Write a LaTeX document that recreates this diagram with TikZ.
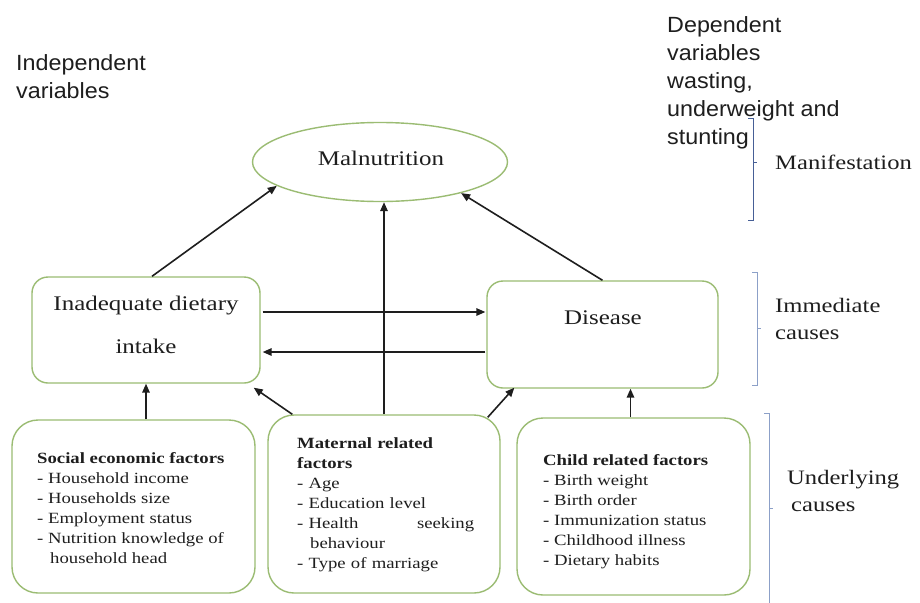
\documentclass[tikz,border=0pt]{standalone}
\usepackage{fontspec}
\setmainfont{Liberation Serif}[FakeStretch=1.2]
\newfontfamily\sansf{Liberation Sans}[FakeStretch=1.06]
\usetikzlibrary{arrows.meta,shapes.geometric,calc}
\definecolor{boxgreen}{RGB}{155,188,115}
\definecolor{brkdark}{RGB}{70,95,150}
\definecolor{brklight}{RGB}{140,160,200}
\definecolor{ink}{RGB}{30,30,30}
\tikzset{
  box/.style={draw=boxgreen, line width=1.4pt, fill=white, rectangle, inner sep=0pt},
  topbox/.style={box, rounded corners=16pt},
  botbox/.style={box, rounded corners=26pt},
  big/.style={font=\fontsize{20.8}{27}\selectfont, text=ink, inner sep=0pt},
  side/.style={font=\fontsize{20.5}{27}\selectfont, text=ink, inner sep=0pt, anchor=west, align=left},
  small/.style={font=\fontsize{15.6}{20}\selectfont, text=ink, inner sep=0pt, anchor=north west, align=left},
  sanstext/.style={font=\sansf\fontsize{22}{28}\selectfont, text=ink, inner sep=0pt, anchor=north west, align=left},
  arr/.style={draw=ink, line width=1.6pt, -{Triangle[length=9pt,width=7.5pt]}},
  brk/.style={line width=0.8pt}
}
\begin{document}
\begin{tikzpicture}[x=1pt,y=-1pt]
\useasboundingbox (0,0) rectangle (920,602);
\fill[white] (0,0) rectangle (920,602);

% top labels
\node[sanstext] (indep) at (16,54) {Independent\\variables};
\node[sanstext] (dep) at (667,16) {Dependent\\variables\\wasting,\\underweight and\\stunting};

% malnutrition
\node[ellipse, draw=boxgreen, line width=1.4pt, fill=white, minimum width=255pt, minimum height=79pt, inner sep=0pt] (mal) at (380,162) {};
\node[big] (maltext) at (381,158) {Malnutrition};

% immediate causes
\node[topbox, minimum width=228pt, minimum height=106pt] (intake) at (146,330) {};
\node[big] (intakeA) at (146,306) {Inadequate dietary};
\node[big] (intakeB) at (146,346) {intake};
\node[topbox, minimum width=231pt, minimum height=107pt] (dis) at (602.5,334.5) {};
\node[big] (distext) at (603,318) {Disease};

% underlying causes
\node[botbox, minimum width=243pt, minimum height=173pt] (soc) at (133.5,506.5) {};
\node[small] (soctext) at (37,452) {\textbf{Social economic factors}\\- Household income\\- Households size\\- Employment status\\- Nutrition knowledge of\\\hspace*{13pt}household head};
\node[botbox, minimum width=232pt, minimum height=178pt] (mat) at (384,504) {};
\node[small, text width=177pt] (mattext) at (297,437) {\textbf{Maternal related}\\\textbf{factors}\\- Age\\- Education level\\- Health\hfill seeking\\\hspace*{13pt}behaviour\\- Type of marriage};
\node[botbox, minimum width=233pt, minimum height=177pt] (child) at (633.5,506.5) {};
\node[small] (childtext) at (543,454) {\textbf{Child related factors}\\- Birth weight\\- Birth order\\- Immunization status\\- Childhood illness\\- Dietary habits};

% side labels
\node[side] (manif) at (775,162) {Manifestation};
\node[side] (immed) at (775,319) {Immediate\\causes};
\node[side] (under) at (787,491) {Underlying\\\hspace*{4pt}causes};

% brackets
\draw[brk, brkdark] (748,118) -- (753,118) -- (753,220) -- (748,220);
\draw[brk, brkdark] (753,162) -- (757,162);
\draw[brk, brklight] (752,272) -- (757,272) -- (757,385) -- (752,385);
\draw[brk, brklight] (757,328) -- (761,328);
\draw[brk, brklight] (764,413) -- (769,413) -- (769,605);
\draw[brk, brklight] (769,508) -- (773,508);

% connectors
\draw[arr] ($(intake.north)+(6,0)$) -- (mal.193);
\draw[arr] (dis.north) -- (mal.-21);
\coordinate (h1) at ($(intake.east)+(2,-18)$);
\coordinate (h2) at ($(intake.east)+(2,22)$);
\draw[arr] (h1) -- ($(h1 -| dis.west)+(-1,0)$);
\draw[arr] ($(h2 -| dis.west)+(-1,0)$) -- (h2);
\draw[arr] (intake.south |- soc.north) -- (intake.south);
\draw[arr] ($(mat.north west)+(25,0)$) -- ($(intake.south east)+(-7,4)$);
\draw[arr] (mat.north) -- (mat.north |- mal.south);
\draw[arr] ($(mat.north east)+(-13,3)$) -- ($(dis.south west)+(28,-1)$);
\coordinate (c1) at ($(child.north)+(-3,0)$);
\draw[arr] (c1) -- (c1 |- dis.south);
\end{tikzpicture}
\end{document}
